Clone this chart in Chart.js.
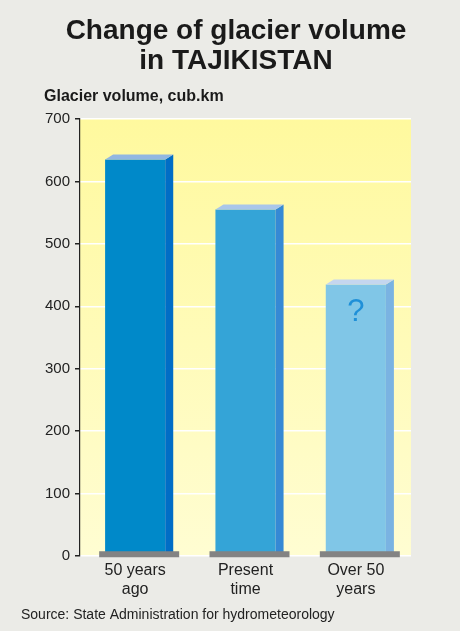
<!DOCTYPE html>
<html>
<head>
<meta charset="utf-8">
<script src="https://cdn.jsdelivr.net/npm/chart.js@4/dist/chart.umd.min.js"></script>
<style>
  html, body { margin: 0; padding: 0; background: #ebebe7; }
  #wrap { width: 460px; height: 631px; }
</style>
</head>
<body>
<div id="wrap"><canvas id="c" width="460" height="631"></canvas></div>
<script>
// ---- data ----
const categories = [["50 years", "ago"], ["Present", "time"], ["Over 50", "years"]];
const volumes = [635, 555, 435];
const yTicks = [0, 100, 200, 300, 400, 500, 600, 700];
const titleLines = ["Change of glacier volume", "in TAJIKISTAN"];
const axisTitle = "Glacier volume, cub.km";
const sourceText = "Source: State Administration for hydrometeorology";
const unknownMark = "?";

// ---- styles ----
const FONT = "'Liberation Sans', Arial, sans-serif";
const frontColors = ["#0089c9", "#34a4d7", "#80c6e7"];
const sideColors = ["#006dc6", "#3589d5", "#7ab3e2"];
const topColors = ["#92b7e1", "#a9c6ea", "#c4d6ef"];
const DEPTH_X = 8, DEPTH_Y = 5;

const deco = {
  id: "deco",
  beforeDraw(chart) {
    const { ctx, chartArea: a } = chart;
    ctx.save();
    ctx.fillStyle = "#ebebe7";
    ctx.fillRect(0, 0, chart.width, chart.height);
    const g = ctx.createLinearGradient(0, a.top, 0, a.bottom);
    g.addColorStop(0, "#fff99e");
    g.addColorStop(1, "#fffdd2");
    ctx.fillStyle = g;
    ctx.fillRect(a.left, a.top, a.right - a.left, a.bottom - a.top);
    ctx.restore();
  },
  afterDatasetsDraw(chart) {
    const { ctx } = chart;
    const meta = chart.getDatasetMeta(0);
    ctx.save();
    meta.data.forEach((el, i) => {
      const p = el.getProps(["x", "y", "base", "width"], true);
      const l = p.x - p.width / 2, r = p.x + p.width / 2, t = p.y, b = p.base;
      // side face
      ctx.fillStyle = sideColors[i];
      ctx.beginPath();
      ctx.moveTo(r, t);
      ctx.lineTo(r + DEPTH_X, t - DEPTH_Y);
      ctx.lineTo(r + DEPTH_X, b);
      ctx.lineTo(r, b);
      ctx.closePath();
      ctx.fill();
      // top face
      ctx.fillStyle = topColors[i];
      ctx.beginPath();
      ctx.moveTo(l, t);
      ctx.lineTo(l + DEPTH_X, t - DEPTH_Y);
      ctx.lineTo(r + DEPTH_X, t - DEPTH_Y);
      ctx.lineTo(r, t);
      ctx.closePath();
      ctx.fill();
      // base plate
      const cx = (l + r + DEPTH_X) / 2;
      ctx.fillStyle = "#838383";
      ctx.fillRect(cx - 40, b - 4, 80, 6);
    });
    // question mark on the last bar
    const last = meta.data[meta.data.length - 1].getProps(["x", "y"], true);
    ctx.fillStyle = "#1f90d8";
    ctx.font = "31px " + FONT;
    ctx.textAlign = "center";
    ctx.textBaseline = "middle";
    ctx.fillText(unknownMark, last.x, last.y + 28);
    ctx.restore();
  },
  afterDraw(chart) {
    const { ctx } = chart;
    ctx.save();
    ctx.fillStyle = "#1a1a1a";
    ctx.textBaseline = "middle";
    ctx.textAlign = "center";
    ctx.font = "bold 28px " + FONT;
    ctx.fillText(titleLines[0], 236, 31);
    ctx.fillText(titleLines[1], 236, 61);
    ctx.textAlign = "left";
    ctx.font = "bold 16px " + FONT;
    ctx.fillText(axisTitle, 44, 97);
    ctx.font = "14px " + FONT;
    ctx.fillStyle = "#222";
    ctx.fillText(sourceText, 21, 615);
    ctx.restore();
  }
};

new Chart(document.getElementById("c"), {
  type: "bar",
  data: {
    labels: categories,
    datasets: [{
      data: volumes,
      backgroundColor: frontColors,
      borderWidth: 0,
      barPercentage: 0.545,
      categoryPercentage: 1.0
    }]
  },
  options: {
    responsive: false,
    animation: false,
    devicePixelRatio: 1,
    layout: { padding: { left: 0, right: 49, top: 119, bottom: 25 } },
    plugins: {
      legend: { display: false },
      tooltip: { enabled: false },
      title: { display: false }
    },
    scales: {
      x: {
        grid: { display: false, drawTicks: false },
        border: { display: false },
        ticks: { color: "#222", font: { family: FONT, size: 16, lineHeight: 1.13 }, padding: 6, maxRotation: 0 },
        afterFit(s) { s.height = 50; }
      },
      y: {
        min: 0, max: 700,
        afterBuildTicks(s) { s.ticks = yTicks.map(v => ({ value: v })); },
        grid: { color: "#ffffff", lineWidth: 1.5, tickColor: "#222", tickLength: 5 },
        border: { display: true, color: "#222", width: 1.2 },
        ticks: { color: "#222", font: { family: FONT, size: 15 }, padding: 5 },
        afterFit(s) { s.width = 80; }
      }
    }
  },
  plugins: [deco]
});
</script>
</body>
</html>
